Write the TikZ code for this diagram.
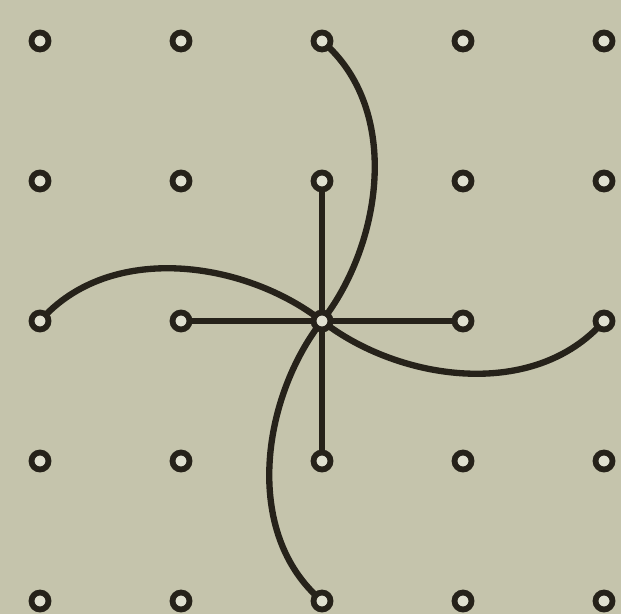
\documentclass[tikz,border=0pt]{standalone}
\usetikzlibrary{backgrounds}
\definecolor{bg}{RGB}{197,196,172}
\definecolor{ink}{RGB}{38,34,26}
\definecolor{hole}{RGB}{224,224,208}
\begin{document}
\begin{tikzpicture}[x=0.02cm,y=-0.02cm,
  peg/.style={circle,draw=ink,fill=hole,line width=3.3pt,minimum size=0.34cm,inner sep=0pt},
  wire/.style={draw=ink,line width=3.6pt,line cap=round}]
\useasboundingbox (0,0) rectangle (621,614);
\foreach \i in {0,...,4} {
  \foreach \j in {0,...,4} {
    \node[peg] (n\i\j) at ({40+141*\i},{41+140*\j}) {};
  }
}
\begin{scope}[on background layer]
\fill[bg] (0,0) rectangle (621,614);
% straight spokes
\draw[wire] (n22.center) -- (n21.center);
\draw[wire] (n22.center) -- (n12.center);
\draw[wire] (n22.center) -- (n32.center);
\draw[wire] (n22.center) -- (n23.center);
% curved arms
\draw[wire] (n22.center) .. controls (382,244) and (402,109) .. (n20.center);
\draw[wire] (n22.center) .. controls (399,381) and (534,401) .. (n42.center);
\draw[wire] (n22.center) .. controls (262,398) and (242,533) .. (n24.center);
\draw[wire] (n22.center) .. controls (245,261) and (110,241) .. (n02.center);
\end{scope}
\end{tikzpicture}
\end{document}
